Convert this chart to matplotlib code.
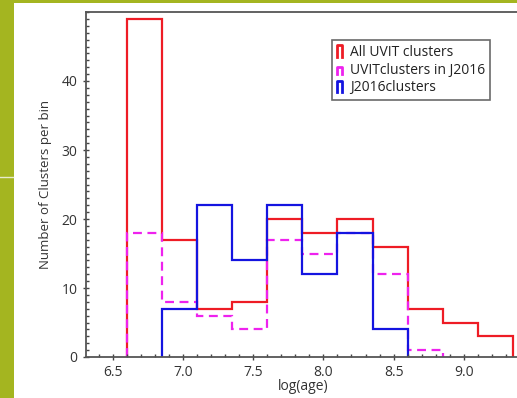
import numpy as np
import matplotlib
matplotlib.use("Agg")
import matplotlib.pyplot as plt
from matplotlib.legend_handler import HandlerBase
from matplotlib.lines import Line2D
from matplotlib.patches import Rectangle
from matplotlib.ticker import MultipleLocator

plt.rcParams['font.family'] = ['Open Sans', 'DejaVu Sans']

# bin edges (log age)
edges_all = [6.6, 6.85, 7.1, 7.35, 7.6, 7.85, 8.1, 8.35, 8.6, 8.85, 9.1, 9.35]
all_uvit = [49, 17, 7, 8, 20, 18, 20, 16, 7, 5, 3]

edges_uvit_j = [6.6, 6.85, 7.1, 7.35, 7.6, 7.85, 8.1, 8.35, 8.6, 8.85]
uvit_in_j2016 = [18, 8, 6, 4, 17, 15, 18, 12, 1]

edges_j = [6.85, 7.1, 7.35, 7.6, 7.85, 8.1, 8.35, 8.6]
j2016 = [7, 22, 14, 22, 12, 18, 4]

labels = ["All UVIT clusters", "UVITclusters in J2016", "J2016clusters"]
colors = ["#ee1c25", "#ee22ee", "#1414e0"]

W, H = 517, 398
fig = plt.figure(figsize=(W / 100, H / 100), dpi=100, facecolor="white")

green = "#a4b520"
fig.patches.append(Rectangle((0, 0), 14 / W, 1, transform=fig.transFigure,
                             facecolor=green, edgecolor="none", zorder=-10))
fig.patches.append(Rectangle((0, 1 - 3 / H), 1, 3 / H, transform=fig.transFigure,
                             facecolor=green, edgecolor="none", zorder=-10))
fig.lines.append(Line2D([0, 13 / W], [1 - 177 / H, 1 - 177 / H], transform=fig.transFigure,
                        color="#e8eccc", lw=1.0, zorder=-5))

ax = fig.add_axes([86 / W, 1 - 357 / H, 434 / W, 345 / H])

ax.stairs(all_uvit, edges_all, baseline=0, color=colors[0], lw=1.6, label=labels[0])
ax.stairs(uvit_in_j2016, edges_uvit_j, baseline=0, color=colors[1], lw=1.6,
          linestyle=(0, (4, 2.5)), label=labels[1])
ax.stairs(j2016, edges_j, baseline=0, color=colors[2], lw=1.6, label=labels[2])

ax.set_xlim(6.31, 9.4)
ax.set_ylim(0, 50)
ax.set_xticks([6.5, 7.0, 7.5, 8.0, 8.5, 9.0])
ax.set_yticks([0, 10, 20, 30, 40])
ax.xaxis.set_minor_locator(MultipleLocator(0.1))
ax.yaxis.set_minor_locator(MultipleLocator(1))
ax.tick_params(which="major", direction="inout", length=5, width=1, color="#444444",
               labelsize=10, labelcolor="#333333", top=False, right=False)
ax.tick_params(which="minor", direction="in", length=2.5, width=1, color="#444444",
               top=False, right=False)
for s in ["left", "bottom", "top"]:
    ax.spines[s].set_color("#555555")
    ax.spines[s].set_linewidth(1.3)
ax.spines["right"].set_visible(False)

ax.set_xlabel("log(age)", fontsize=10, color="#333333", labelpad=-1)
ax.set_ylabel("Number of Clusters per bin", fontsize=9.5, color="#333333", labelpad=7)


class PiHandler(HandlerBase):
    def __init__(self, hfrac=1.0, **kw):
        super().__init__(**kw)
        self.hfrac = hfrac

    def create_artists(self, legend, orig_handle, xdescent, ydescent, width, height,
                       fontsize, trans):
        x0 = -xdescent
        x1 = x0 + width
        y0 = -ydescent
        y1 = y0 + height * self.hfrac
        ln = Line2D([x0, x0, x1, x1], [y0, y1, y1, y0],
                    color=orig_handle.get_edgecolor(), lw=2.0, transform=trans)
        return [ln]


handles, labs = ax.get_legend_handles_labels()
leg = ax.legend(handles, labs, loc="upper left", bbox_to_anchor=(0.566, 0.919),
                borderaxespad=0, fancybox=False, frameon=True, fontsize=10,
                handlelength=0.4, handleheight=0.85, handletextpad=0.6,
                labelspacing=0.2, borderpad=0.35,
                handler_map={handles[0]: PiHandler(1.0),
                             handles[1]: PiHandler(0.65),
                             handles[2]: PiHandler(1.0)})
leg.get_frame().set_edgecolor("#444444")
leg.get_frame().set_linewidth(1.2)
for t in leg.get_texts():
    t.set_color("#222222")

fig.savefig("out.png", dpi=100, facecolor="white")
